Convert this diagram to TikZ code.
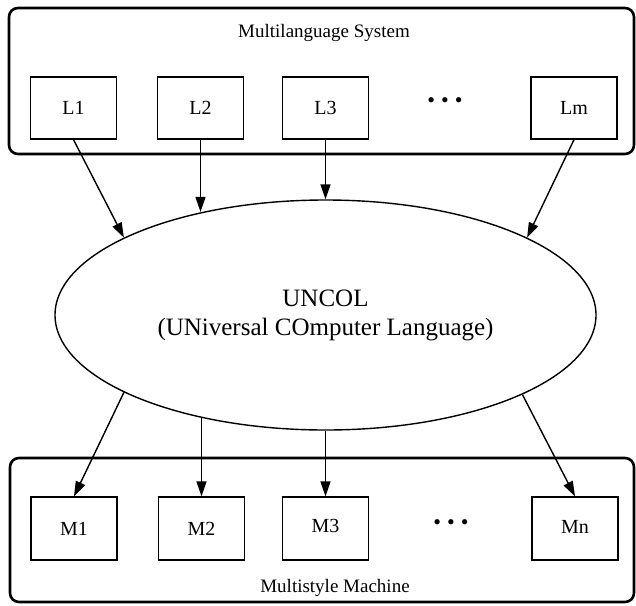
\documentclass[tikz,border=0pt]{standalone}
\usepackage{fontspec}
\setmainfont{Liberation Serif}
\usetikzlibrary{arrows.meta,shapes.geometric}
\begin{document}
\begin{tikzpicture}[x=1pt,y=-1pt,
  container/.style={draw, line width=2.6pt, rounded corners=9pt, inner sep=0pt},
  langbox/.style={draw, line width=1.3pt, minimum width=86pt, minimum height=62pt, inner sep=0pt, font=\fontsize{20}{24}\selectfont},
  titletext/.style={font=\fontsize{19}{23}\selectfont, inner sep=0pt},
  dotstext/.style={font=\fontsize{22}{24}\selectfont, inner sep=0pt},
  conn/.style={line width=1.4pt, -{Triangle[length=15pt,width=10pt]}}
]
\useasboundingbox (0,0) rectangle (636,605);
% containers
\node[container, minimum width=625pt, minimum height=146pt] (sys) at (321.5,81) {};
\node[container, minimum width=624pt, minimum height=144pt] (mach) at (322,530) {};
\node[titletext] (systitle) at (324,33) {Multilanguage System};
\node[titletext] (machtitle) at (335,588) {Multistyle Machine};
% language boxes
\node[langbox] (L1) at (73.5,108) {L1};
\node[langbox] (L2) at (200.5,108) {L2};
\node[langbox] (L3) at (325.5,108) {L3};
\node[dotstext] (Ldots) at (445,103) {\textbullet\hspace{6pt}\textbullet\hspace{6pt}\textbullet};
\node[langbox] (Lm) at (574,108) {\raisebox{-4pt}{Lm}};
% machine boxes
\node[langbox, minimum height=63pt] (M1) at (74,528.5) {\raisebox{-3.5pt}{M1}};
\node[langbox, minimum height=63pt] (M2) at (201.5,528.5) {M2};
\node[langbox, minimum height=63pt] (M3) at (325.5,528.5) {\raisebox{5pt}{M3}};
\node[dotstext] (Mdots) at (451,525) {\textbullet\hspace{6pt}\textbullet\hspace{6pt}\textbullet};
\node[langbox, minimum height=63pt] (Mn) at (575,528.5) {\raisebox{2.5pt}{Mn}};
% UNCOL ellipse
\node[ellipse, draw, line width=1.4pt, minimum width=541pt, minimum height=230pt, inner sep=0pt,
      align=center, font=\fontsize{25}{29}\selectfont] (U) at (325.5,315)
      {UNCOL\\(UNiversal COmputer Language)};
% connectors
\draw[conn] (L1.south) -- (U.159);
\draw[conn] (L2.south) -- (L2.south |- U.140);
\draw[conn] (L3.south) -- (U.north);
\draw[conn] (Lm.south) -- (U.21);
\draw[conn] (U.201) -- (M1.north);
\draw[conn] (M2.north |- U.220) -- (M2.north);
\draw[conn] (U.south) -- (M3.north);
\draw[conn] (U.338) -- (Mn.north);
\end{tikzpicture}
\end{document}
